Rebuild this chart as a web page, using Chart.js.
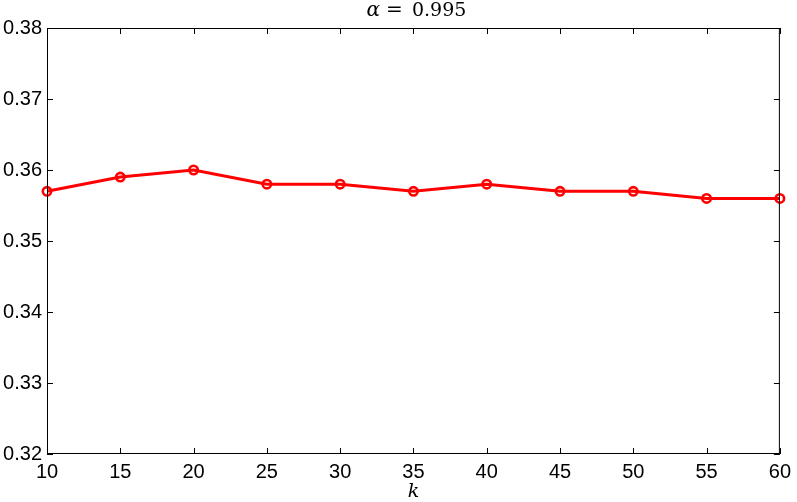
<!DOCTYPE html>
<html>
<head>
<meta charset="utf-8">
<script src="https://cdn.jsdelivr.net/npm/chart.js@4.4.1/dist/chart.umd.min.js"></script>
<style>
html,body{margin:0;padding:0;background:#fff;}
#wrap{width:797px;height:502px;position:relative;}
</style>
</head>
<body>
<div id="wrap"><canvas id="c" width="797" height="502"></canvas></div>
<script>
const kValues = [10, 15, 20, 25, 30, 35, 40, 45, 50, 55, 60];
const scoreValues = [0.357, 0.359, 0.360, 0.358, 0.358, 0.357, 0.358, 0.357, 0.357, 0.356, 0.356];
const xTicks = [10, 15, 20, 25, 30, 35, 40, 45, 50, 55, 60];
const yTicks = [0.32, 0.33, 0.34, 0.35, 0.36, 0.37, 0.38];
const titleAlpha = 'α';
const titleEq = '=';
const titleVal = '0.995';
const xTitle = 'k';

const frame = {
  id: 'frame',
  afterDraw(chart) {
    const ctx = chart.ctx;
    const a = chart.chartArea;
    const xs = chart.scales.x, ys = chart.scales.y;
    ctx.save();
    ctx.strokeStyle = '#000';
    ctx.lineWidth = 1;
    ctx.beginPath();
    ctx.moveTo(a.left, a.top + 0.5); ctx.lineTo(a.right, a.top + 0.5);
    ctx.moveTo(a.right - 0.5, a.top); ctx.lineTo(a.right - 0.5, a.bottom);
    ctx.moveTo(a.left + 0.5, a.top); ctx.lineTo(a.left + 0.5, a.bottom);
    ctx.moveTo(a.left, a.bottom - 0.5); ctx.lineTo(a.right, a.bottom - 0.5);
    const L = 6;
    xs.ticks.forEach(t => {
      const px = Math.round(xs.getPixelForValue(t.value)) + 0.5;
      ctx.moveTo(px, a.bottom); ctx.lineTo(px, a.bottom - L);
      ctx.moveTo(px, a.top); ctx.lineTo(px, a.top + L);
    });
    ys.ticks.forEach(t => {
      const py = Math.round(ys.getPixelForValue(t.value)) + 0.5;
      ctx.moveTo(a.left, py); ctx.lineTo(a.left + L, py);
      ctx.moveTo(a.right, py); ctx.lineTo(a.right - L, py);
    });
    ctx.stroke();
    // title
    ctx.fillStyle = '#000';
    ctx.textBaseline = 'alphabetic';
    ctx.textAlign = 'left';
    const cx = (a.left + a.right) / 2;
    const base = 16;
    ctx.font = 'italic 20px "DejaVu Serif", "Liberation Serif", serif';
    ctx.fillText(titleAlpha, cx - 47, base);
    ctx.font = '20px "DejaVu Serif", "Liberation Serif", serif';
    ctx.fillText(titleEq, cx - 27.5, base);
    ctx.font = '19px "DejaVu Serif", "Liberation Serif", serif';
    ctx.fillText(titleVal, cx - 1.5, base);
    ctx.restore();
  }
};

new Chart(document.getElementById('c'), {
  type: 'line',
  data: {
    datasets: [{
      data: kValues.map((k, i) => ({x: k, y: scoreValues[i]})),
      borderColor: '#ff0000',
      borderWidth: 3,
      pointRadius: 4.2,
      pointBorderWidth: 2.6,
      pointBorderColor: '#ff0000',
      pointBackgroundColor: 'rgba(0,0,0,0)',
      pointStyle: 'circle',
      tension: 0,
      clip: false
    }]
  },
  options: {
    responsive: false,
    animation: false,
    devicePixelRatio: 1,
    layout: {padding: {top: 28, right: 13, left: 0, bottom: 0}},
    plugins: {legend: {display: false}, tooltip: {enabled: false}, title: {display: false}},
    scales: {
      x: {
        type: 'linear', min: 10, max: 60,
        afterBuildTicks: s => { s.ticks = xTicks.map(v => ({value: v})); },
        afterFit: s => { s.height = 48; },
        grid: {display: false, drawTicks: false},
        border: {display: false},
        ticks: {padding: 6, color: '#000', font: {family: '"Liberation Sans", Arial, sans-serif', size: 20, lineHeight: 1.2}, maxRotation: 0, autoSkip: false},
        title: {display: true, text: xTitle, color: '#000', font: {family: '"DejaVu Serif", "Liberation Serif", serif', style: 'italic', size: 19, lineHeight: 1.0}, padding: {top: 0, bottom: 0}}
      },
      y: {
        type: 'linear', min: 0.32, max: 0.38,
        afterBuildTicks: s => { s.ticks = yTicks.map(v => ({value: v})); },
        afterFit: s => { s.width = 47; },
        grid: {display: false, drawTicks: false},
        border: {display: false},
        ticks: {padding: 5, color: '#000', font: {family: '"Liberation Sans", Arial, sans-serif', size: 20},
          callback: v => v.toFixed(2)}
      }
    }
  },
  plugins: [frame]
});
</script>
</body>
</html>
